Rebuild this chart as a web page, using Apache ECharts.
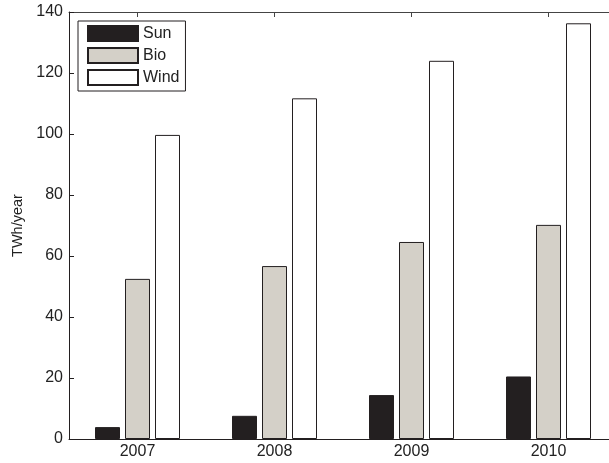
<!DOCTYPE html>
<html>
<head>
<meta charset="utf-8">
<script src="https://cdn.jsdelivr.net/npm/echarts@6/dist/echarts.min.js"></script>
<style>
  html, body { margin: 0; padding: 0; background: #fff; overflow: hidden; }
  /* the chart box runs a little past the right edge of the picture, as in the original */
  #chart { width: 617px; height: 463px; }
</style>
</head>
<body>
<div id="chart"></div>
<script>
// data
const years = ['2007', '2008', '2009', '2010']
const sun = [3.9, 7.6, 14.4, 20.5]
const bio = [52.5, 56.7, 64.6, 70.2]
const wind = [99.7, 111.7, 124.0, 136.3]

const myChart = echarts.init(document.getElementById('chart'))

const font = 'Liberation Sans, Arial, Helvetica, sans-serif'
const edge = '#231f20'

const option = {
  animation: false,
  textStyle: { fontFamily: font },
  grid: {
    left: 69,
    top: 12,
    right: 0,
    bottom: 24
  },
  legend: {
    orient: 'vertical',
    left: 78,
    top: 21,
    itemWidth: 50,
    itemHeight: 15,
    itemGap: 5,
    padding: [4, 6, 5, 9],
    borderColor: edge,
    borderWidth: 1,
    icon: 'rect',
    textStyle: {
      fontFamily: font,
      fontSize: 16,
      lineHeight: 15,
      color: '#222'
    },
    data: ['Sun', 'Bio', 'Wind']
  },
  xAxis: [
    {
      type: 'category',
      data: years,
      axisLine: { lineStyle: { color: edge, width: 1 } },
      axisTick: { show: true, inside: true, alignWithLabel: true, length: 5, lineStyle: { color: edge } },
      axisLabel: { color: '#222', fontSize: 16, margin: 5, fontFamily: font }
    },
    {
      type: 'category',
      position: 'top',
      data: years,
      axisLine: { lineStyle: { color: '#444', width: 1 } },
      axisTick: { show: true, inside: true, alignWithLabel: true, length: 5, lineStyle: { color: '#444' } },
      axisLabel: { show: false }
    }
  ],
  yAxis: {
    type: 'value',
    min: 0,
    max: 140,
    interval: 20,
    name: 'TWh/year',
    nameLocation: 'middle',
    nameGap: 44,
    nameTextStyle: { color: '#222', fontSize: 14.5, fontFamily: font },
    axisLine: { show: true, lineStyle: { color: edge, width: 1 } },
    axisTick: { show: true, inside: true, length: 5, lineStyle: { color: edge } },
    axisLabel: { color: '#222', fontSize: 16, margin: 6, fontFamily: font },
    splitLine: { show: false }
  },
  series: [
    {
      name: 'Sun',
      type: 'bar',
      data: sun,
      barWidth: 25,
      barGap: '20%',
      itemStyle: { color: edge, borderColor: edge, borderWidth: 1 }
    },
    {
      name: 'Bio',
      type: 'bar',
      data: bio,
      barWidth: 25,
      barGap: '20%',
      itemStyle: { color: '#d4d0c8', borderColor: edge, borderWidth: 1 }
    },
    {
      name: 'Wind',
      type: 'bar',
      data: wind,
      barWidth: 25,
      barGap: '20%',
      itemStyle: { color: '#ffffff', borderColor: edge, borderWidth: 1 }
    }
  ]
}

myChart.setOption(option)
</script>
</body>
</html>
